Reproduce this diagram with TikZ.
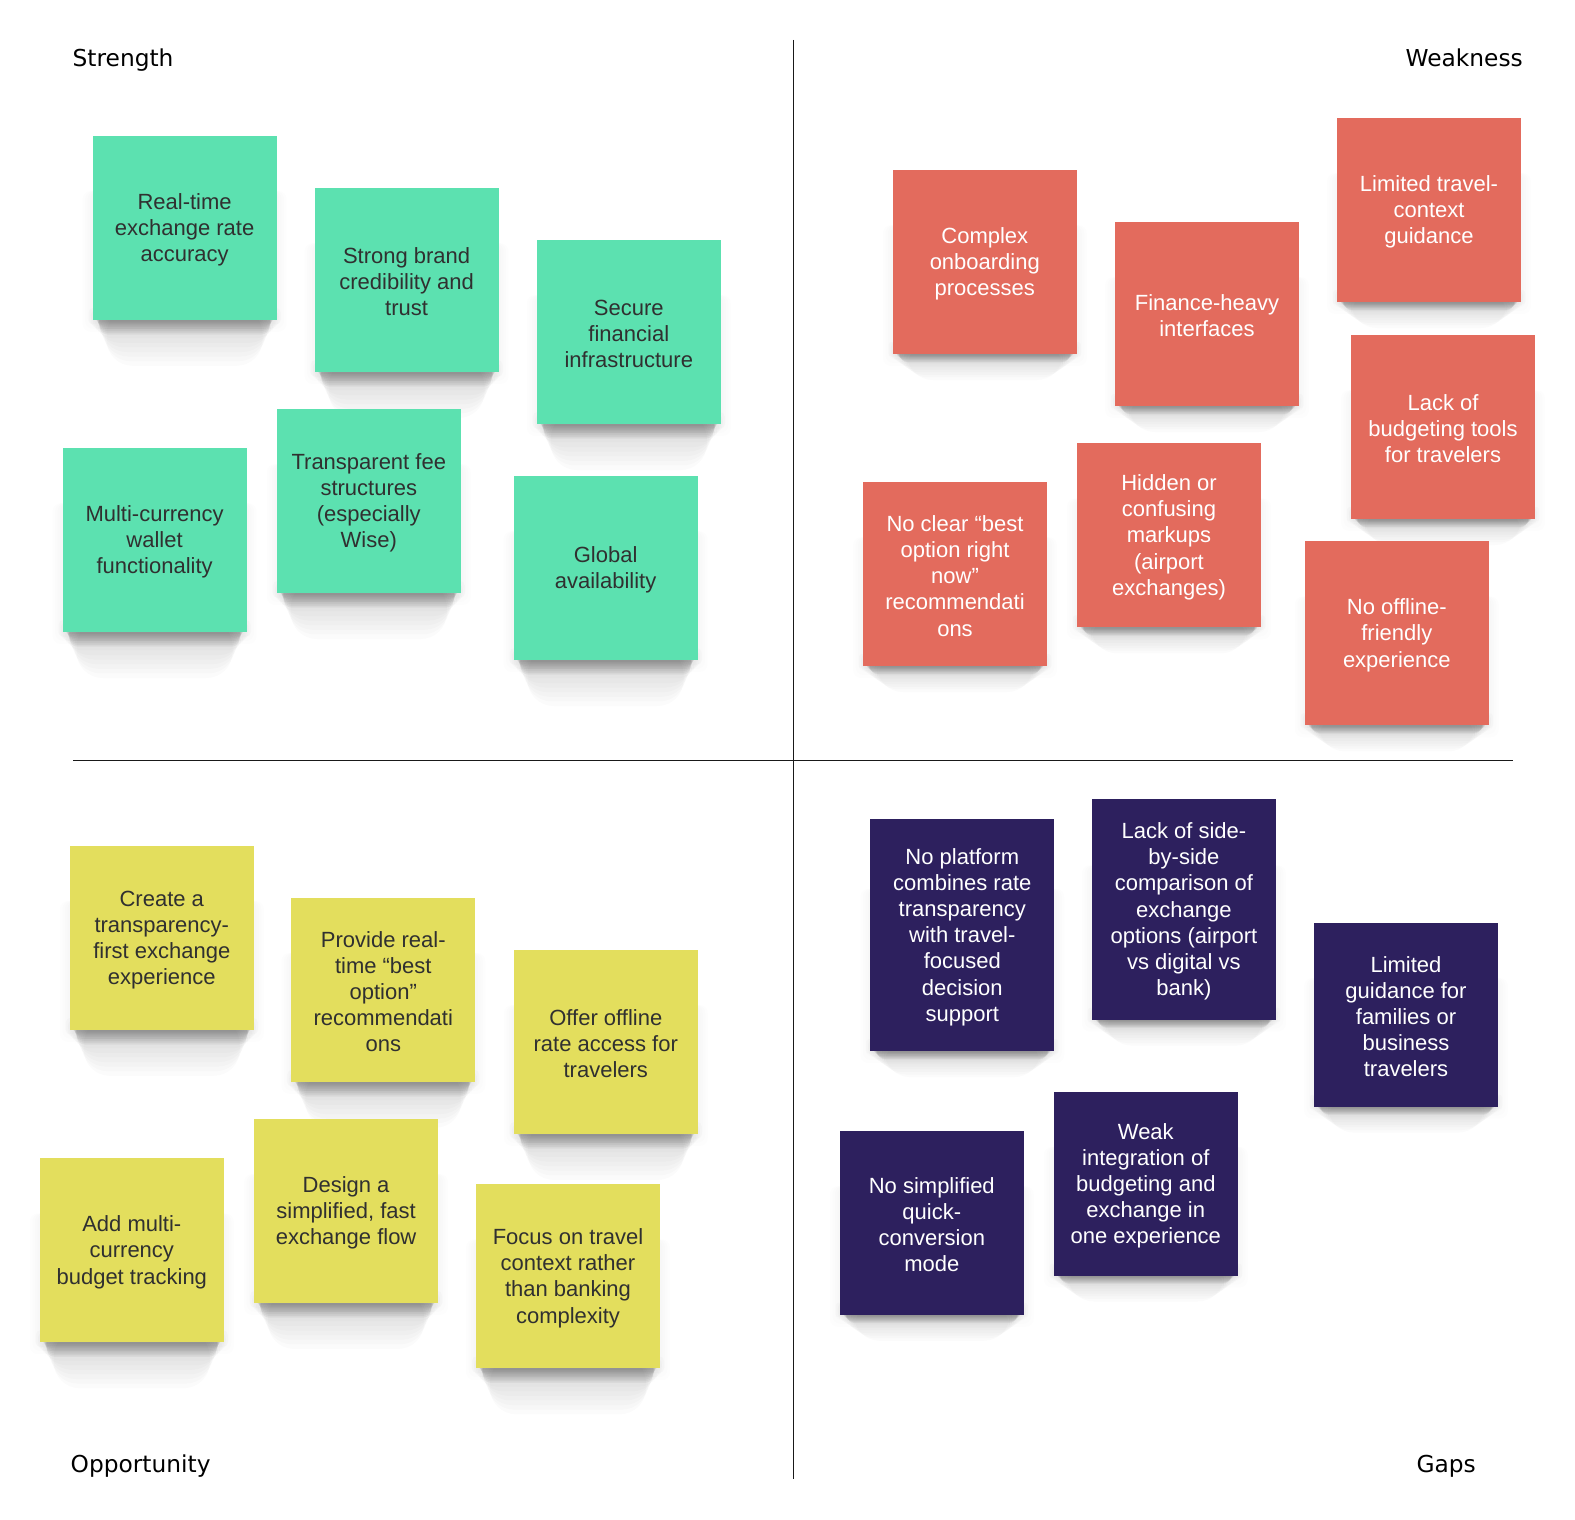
\documentclass[tikz,border=0pt]{standalone}
\usepackage{fontspec}
\newfontfamily\stickyfont{Liberation Sans}
\newfontfamily\titlefont{DejaVu Sans}
\definecolor{cgreen}{HTML}{5CE1B0}
\definecolor{cred}{HTML}{E36B5D}
\definecolor{cyellow}{HTML}{E3DE5D}
\definecolor{cpurple}{HTML}{2D205E}
\definecolor{ctextdark}{HTML}{303030}
\tikzset{
  sticky/.style={anchor=north west, minimum width=184pt, inner sep=0pt, outer sep=0pt},
  stickytext/.style={inner sep=0pt, align=center, font={\stickyfont\fontsize{22}{26.1}\selectfont}},
  sgreen/.style={fill=cgreen},
  syellow/.style={fill=cyellow},
  sred/.style={fill=cred},
  spurple/.style={fill=cpurple},
  tdark/.style={text=ctextdark},
  tlight/.style={text=white},
  title/.style={font={\titlefont\fontsize{23.3}{28}\selectfont}, text=black, inner sep=0pt},
  axisline/.style={draw=black!90, line width=1.4pt}
}
% #1 name, #2 x, #3 y, #4 height, #5 fill style, #6 text style, #7 shadow length, #8 text
\newcommand\stickynote[8]{%
  % faint halo on the sides
  \foreach \j in {1,2,3,4}{%
    \fill[black, opacity=0.009, rounded corners=8pt]
      ({#2-\j*2.5},{#3+#4*0.3}) rectangle ({#2+184+\j*2.5},{#3+#4+\j*3});
  }%
  % wide faint shadow
  \foreach \i in {1,...,10}{%
    \pgfmathsetmacro\rr{min(#7*\i/10,26)}%
    \fill[black, opacity=0.014, rounded corners=\rr pt]
      ({#2-6+\i*2},{#3+#4-12}) rectangle ({#2+184+6-\i*2},{#3+#4+#7*\i/10});
  }%
  % dark band right under the note
  \foreach \i in {1,...,8}{%
    \pgfmathsetmacro\rr{min(#7*0.32*\i/8,8)}%
    \fill[black, opacity=0.04, rounded corners=\rr pt]
      ({#2+3+\i*0.5},{#3+#4-8}) rectangle ({#2+184-3-\i*0.5},{#3+#4+#7*0.32*\i/8});
  }%
  \node[sticky, #5, minimum height=#4pt] (#1) at (#2,#3) {};
  \node[stickytext, #6] (#1t) at ([yshift=-2pt]#1.center) {#8};
}
\begin{document}
\begin{tikzpicture}[x=1pt, y=-1pt]
\fill[white] (0,0) rectangle (1575,1520);
\useasboundingbox (0,0) rectangle (1575,1520);

% axes
\coordinate (vtop) at (793.5,40);
\coordinate (vbot) at (793.5,1479);
\coordinate (hleft) at (73,760.2);
\coordinate (hright) at (1513,760.2);
\draw[axisline] (vtop) -- (vbot);
\draw[axisline] (hleft) -- (hright);

% titles
\node[title, anchor=base west] (tS) at (72.5,66.5) {Strength};
\node[title, anchor=base east] (tW) at (1523,66.5) {Weakness};
\node[title, anchor=base west] (tO) at (70.5,1472) {Opportunity};
\node[title, anchor=base east] (tG) at (1476,1472) {Gaps};

% Strength
\stickynote{s1}{92.6}{135.8}{184}{sgreen}{tdark}{46}{Real-time\\exchange rate\\accuracy}
\stickynote{s2}{314.6}{188}{184}{sgreen}{tdark}{46}{Strong brand\\credibility and\\trust}
\stickynote{s3}{536.8}{240}{184}{sgreen}{tdark}{46}{Secure\\financial\\infrastructure}
\stickynote{s4}{62.6}{448}{184}{sgreen}{tdark}{46}{Multi-currency\\wallet\\functionality}
\stickynote{s5}{276.8}{409}{184}{sgreen}{tdark}{46}{Transparent fee\\structures\\(especially\\Wise)}
\stickynote{s6}{513.6}{476}{184}{sgreen}{tdark}{46}{Global\\availability}

% Weakness
\stickynote{w1}{892.8}{170}{184}{sred}{tlight}{26}{Complex\\onboarding\\processes}
\stickynote{w2}{1115}{222}{184}{sred}{tlight}{26}{Finance-heavy\\interfaces}
\stickynote{w3}{1337}{118}{184}{sred}{tlight}{26}{Limited travel-\\context\\guidance}
\stickynote{w4}{1351}{335}{184}{sred}{tlight}{26}{Lack of\\budgeting tools\\for travelers}
\stickynote{w5}{863}{482}{184}{sred}{tlight}{26}{No clear “best\\option right\\now”\\recommendati\\ons}
\stickynote{w6}{1077}{443.3}{184}{sred}{tlight}{26}{Hidden or\\confusing\\markups\\(airport\\exchanges)}
\stickynote{w7}{1304.8}{541.3}{184}{sred}{tlight}{26}{No offline-\\friendly\\experience}

% Opportunity
\stickynote{o1}{69.8}{845.8}{184}{syellow}{tdark}{46}{Create a\\transparency-\\first exchange\\experience}
\stickynote{o2}{291.3}{897.8}{184}{syellow}{tdark}{46}{Provide real-\\time “best\\option”\\recommendati\\ons}
\stickynote{o3}{513.8}{949.9}{184}{syellow}{tdark}{46}{Offer offline\\rate access for\\travelers}
\stickynote{o4}{39.8}{1158.2}{184}{syellow}{tdark}{46}{Add multi-\\currency\\budget tracking}
\stickynote{o5}{254.1}{1118.9}{184}{syellow}{tdark}{46}{Design a\\simplified, fast\\exchange flow}
\stickynote{o6}{476}{1184.2}{184}{syellow}{tdark}{46}{Focus on travel\\context rather\\than banking\\complexity}

% Gaps
\stickynote{g1}{870.3}{819.3}{231.8}{spurple}{tlight}{26}{No platform\\combines rate\\transparency\\with travel-\\focused\\decision\\support}
\stickynote{g2}{1091.9}{799.1}{220.5}{spurple}{tlight}{26}{Lack of side-\\by-side\\comparison of\\exchange\\options (airport\\vs digital vs\\bank)}
\stickynote{g3}{1314}{922.9}{183.7}{spurple}{tlight}{26}{Limited\\guidance for\\families or\\business\\travelers}
\stickynote{g4}{839.8}{1131.1}{183.7}{spurple}{tlight}{26}{No simplified\\quick-\\conversion\\mode}
\stickynote{g5}{1053.8}{1091.8}{183.7}{spurple}{tlight}{26}{Weak\\integration of\\budgeting and\\exchange in\\one experience}
\end{tikzpicture}
\end{document}
